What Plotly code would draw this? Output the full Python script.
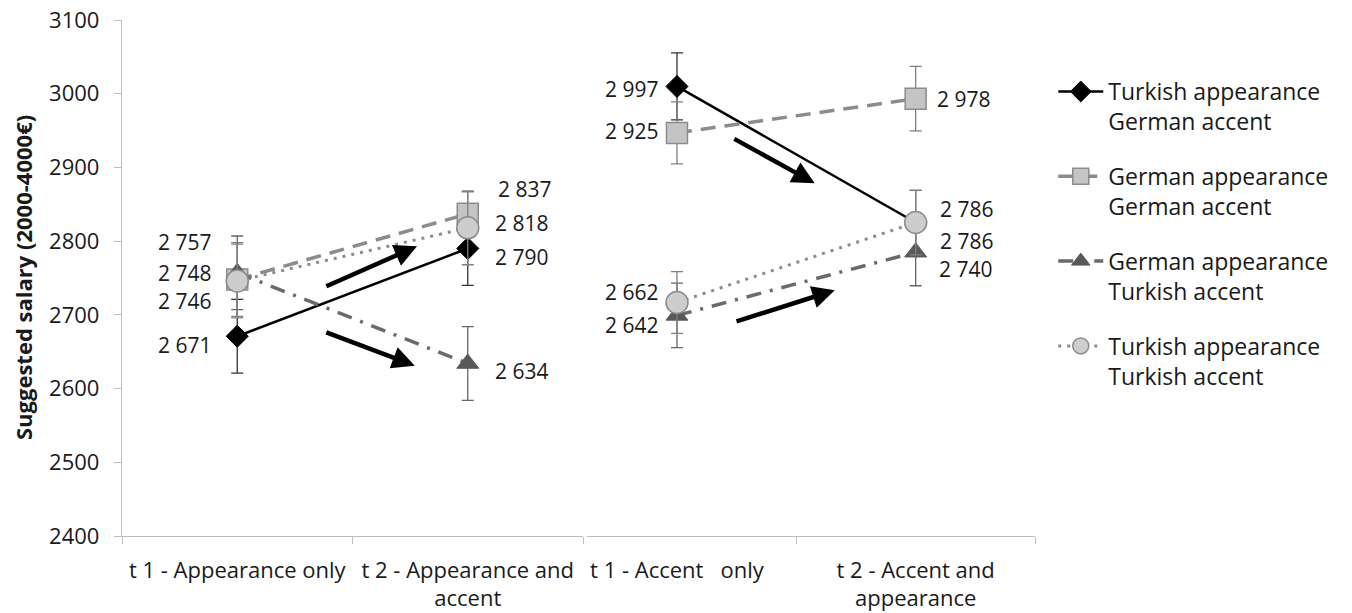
import plotly.graph_objects as go

# Categories of the two measurement blocks
cats_appearance = ["t 1 - Appearance only", "t 2 - Appearance and<br>accent"]
cats_accent = ["t 1 - Accent\u00a0\u00a0\u00a0only", "t 2 - Accent and<br>appearance"]

# Mean suggested salary per condition: [appearance t1, appearance t2, accent t1, accent t2]
turk_app_ger_acc = [2671, 2790, 2997, 2786]
ger_app_ger_acc = [2748, 2837, 2925, 2978]
ger_app_turk_acc = [2757, 2634, 2642, 2740]
turk_app_turk_acc = [2746, 2818, 2662, 2786]

# Standard errors (same order)
se_turk_app_ger_acc = [50, 50, 52, 50]
se_ger_app_ger_acc = [50, 30, 48, 50]
se_ger_app_turk_acc = [50, 50, 50, 52]
se_turk_app_turk_acc = [50, 50, 48, 50]

series_names = [
    "Turkish appearance<br>German accent",
    "German appearance<br>German accent",
    "German appearance<br>Turkish accent",
    "Turkish appearance<br>Turkish accent",
]

FONT = "Open Sans"
TXT = "#1a1a1a"
AXC = "#bfbfbf"

styles = [
    dict(line=dict(color="#000000", width=2.5, dash="solid"),
         marker=dict(symbol="diamond", size=17, color="#000000",
                     line=dict(color="#000000", width=1)),
         err="#333333"),
    dict(line=dict(color="#8c8c8c", width=3.5, dash="15px,9px"),
         marker=dict(symbol="square", size=21, color="#c4c4c4",
                     line=dict(color="#8c8c8c", width=1.5)),
         err="#808080"),
    dict(line=dict(color="#6a6a6a", width=3.5, dash="15px,9px,3px,9px"),
         marker=dict(symbol="triangle-up", size=19, color="#595959",
                     line=dict(color="#595959", width=1)),
         err="#666666"),
    dict(line=dict(color="#8c8c8c", width=3, dash="3px,6px"),
         marker=dict(symbol="circle", size=22, color="#cdcdcd",
                     line=dict(color="#8c8c8c", width=1.5)),
         err="#808080"),
]

all_values = [turk_app_ger_acc, ger_app_ger_acc, ger_app_turk_acc, turk_app_turk_acc]
all_se = [se_turk_app_ger_acc, se_ger_app_ger_acc, se_ger_app_turk_acc, se_turk_app_turk_acc]

fig = go.Figure()

for i, (vals, se, name, st) in enumerate(zip(all_values, all_se, series_names, styles)):
    for half, (cats, xa, ya) in enumerate([(cats_appearance, "x", "y"),
                                          (cats_accent, "x2", "y2")]):
        fig.add_trace(go.Scatter(
            x=cats, y=vals[2 * half:2 * half + 2],
            xaxis=xa, yaxis=ya,
            mode="lines+markers",
            name=name,
            legendgroup=f"g{i}",
            showlegend=(half == 0),
            line=st["line"],
            marker=st["marker"],
            error_y=dict(type="data", array=se[2 * half:2 * half + 2],
                         color=st["err"], thickness=1.3, width=6),
            hoverinfo="skip",
        ))


def fmt(v):
    return f"{v:,}".replace(",", " ")


# Value labels: (series index, point index, xshift, yshift, anchor)
label_layout = [
    (2, 0, -24, 31, "right"), (1, 0, -24, 6, "right"),
    (3, 0, -24, -20, "right"), (0, 0, -24, -9, "right"),
    (1, 1, 28, 25, "left"), (3, 1, 25, 5, "left"),
    (0, 1, 25, -8, "left"), (2, 1, 25, -7, "left"),
    (0, 2, -17, -3, "right"), (1, 2, -17, 2, "right"),
    (3, 2, -17, 11, "right"), (2, 2, -17, -10, "right"),
    (1, 3, 19, 0, "left"), (0, 3, 22, 14, "left"),
    (3, 3, 22, -18, "left"), (2, 3, 21, -17, "left"),
]

annotations = []
for s, p, dx, dy, anc in label_layout:
    v = all_values[s][p]
    right = p >= 2
    annotations.append(dict(
        x=p - 2 if right else p, y=v,
        xref="x2" if right else "x", yref="y2" if right else "y",
        text=fmt(v), showarrow=False, xanchor=anc, yanchor="middle",
        xshift=dx, yshift=dy, font=dict(family=FONT, size=21, color=TXT),
    ))

# Trend arrows
arrow_specs = [
    ("x", "y", 0.38, 2738, 0.78, 2793),
    ("x", "y", 0.38, 2677, 0.77, 2631),
    ("x2", "y2", 0.234, 2917, 0.577, 2847),
    ("x2", "y2", 0.243, 2632, 0.661, 2681),
]
for xr, yr, x0, y0, x1, y1 in arrow_specs:
    annotations.append(dict(
        x=x1, y=y1, ax=x0, ay=y0, xref=xr, yref=yr, axref=xr, ayref=yr,
        showarrow=True, arrowhead=2, arrowsize=1.0, arrowwidth=4.5,
        arrowcolor="#000000", text="", standoff=0,
    ))

# Y-axis title
annotations.append(dict(
    x=-99 / 913, y=0.5, xref="paper", yref="paper", textangle=-90,
    xanchor="center", yanchor="middle",
    text="<b>Suggested salary (2000-4000€)</b>", showarrow=False,
    font=dict(family=FONT, size=22, color=TXT),
))

axis_common = dict(showline=True, linecolor=AXC, linewidth=1.3, ticks="outside",
                   tickcolor=AXC, ticklen=7, showgrid=False, zeroline=False,
                   automargin=False,
                   tickfont=dict(family=FONT, size=22, color=TXT))

fig.update_layout(
    width=1352, height=613,
    margin=dict(l=122, r=317, t=20, b=77, autoexpand=False),
    paper_bgcolor="white", plot_bgcolor="white",
    font=dict(family=FONT, size=22, color=TXT),
    xaxis=dict(domain=[0, 461 / 913], type="category", range=[-0.5, 1.5],
               tickson="boundaries", anchor="y", ticklabelstandoff=14, **axis_common),
    xaxis2=dict(domain=[465 / 913, 1], type="category", range=[-0.377, 1.5],
                tickson="boundaries", anchor="y2", ticklabelstandoff=14, **axis_common),
    yaxis=dict(range=[2400, 3100], dtick=100, anchor="x",
               ticklabelstandoff=10, **axis_common),
    yaxis2=dict(range=[2300, 3100], anchor="x2", visible=False),
    legend=dict(x=1.02, y=0.903, xanchor="left", yanchor="top", valign="top",
                itemwidth=45, tracegroupgap=22, bgcolor="rgba(0,0,0,0)",
                font=dict(family=FONT, size=23, color=TXT)),
    annotations=annotations,
    showlegend=True,
)

fig.write_html("out.html")
